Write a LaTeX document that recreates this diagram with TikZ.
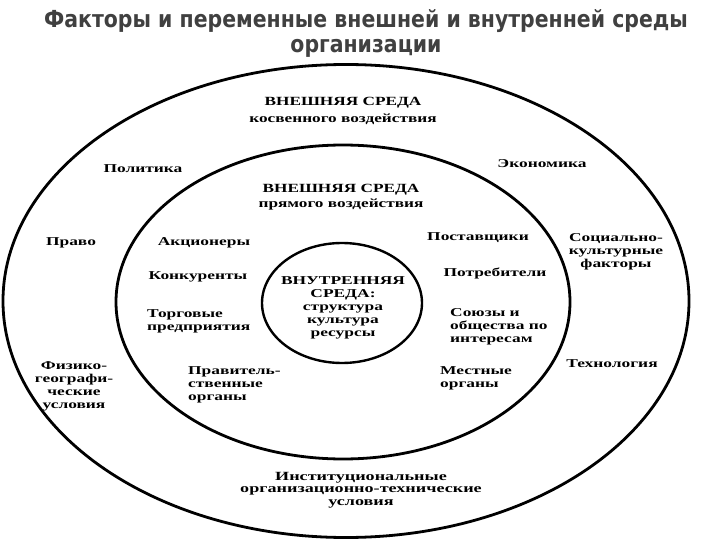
\documentclass[tikz,border=0pt]{standalone}
\usepackage{fontspec}
\usetikzlibrary{shapes.geometric}
\newfontfamily\lblfont[FakeStretch=1.45]{Liberation Serif}
\newfontfamily\hdfont[FakeStretch=1.38]{Liberation Serif}
\newfontfamily\ttlfont[FakeStretch=0.87]{DejaVu Sans}
\definecolor{ttlgray}{HTML}{404040}
\tikzset{
  ring/.style={draw, ellipse, line width=2.8pt, inner sep=0pt},
  lbl/.style={font=\lblfont\bfseries\fontsize{12}{13}\selectfont, inner sep=0pt, align=center},
  lbll/.style={lbl, align=left, anchor=west},
  hd/.style={font=\hdfont\bfseries\fontsize{12.5}{17}\selectfont, inner sep=0pt, align=center},
  ttl/.style={font=\ttlfont\bfseries\fontsize{23.5}{27}\selectfont, text=ttlgray, inner sep=0pt}
}
\begin{document}
\begin{tikzpicture}[x=1pt,y=-1pt]
\useasboundingbox (0,0) rectangle (720,540);
\fill[white] (0,0) rectangle (720,540);
% title
\node[ttl] (t1) at (366,21) {Факторы и переменные внешней и внутренней среды};
\node[ttl] (t2) at (366,48) {организации};
% rings
\node[ring, minimum width=686pt, minimum height=473pt] (outer) at (346,301) {};
\node[ring, minimum width=454pt, minimum height=314pt] (middle) at (343,302) {};
\node[ring, line width=2.4pt, minimum width=160pt, minimum height=120pt] (inner) at (342,303) {};
% outer ring labels
\node[hd] (hk) at (343,111) {ВНЕШНЯЯ СРЕДА\\косвенного воздействия};
\node[lbl] (pol) at (143,169) {Политика};
\node[lbl] (eco) at (542,164) {Экономика};
\node[lbl] (prav) at (71,243) {Право};
\node[lbl] (soc) at (616,252) {Социально-\\культурные\\факторы};
\node[lbl] (fiz) at (74,386) {Физико-\\географи-\\ческие\\условия};
\node[lbl] (tech) at (612,364) {Технология};
\node[lbl, font=\lblfont\bfseries\fontsize{12.5}{12.5}\selectfont] (inst) at (361,490) {Институциональные\\организационно-технические\\условия};
% middle ring labels
\node[hd, font=\hdfont\bfseries\fontsize{12.5}{14.5}\selectfont] (hp) at (341,197) {ВНЕШНЯЯ СРЕДА\\прямого воздействия};
\node[lbl] (akc) at (204,243) {Акционеры};
\node[lbl] (konk) at (198,277) {Конкуренты};
\node[lbll] (torg) at (147,321) {Торговые\\предприятия};
\node[lbl] (post) at (478,238) {Поставщики};
\node[lbl] (potr) at (495,273) {Потребители};
\node[lbll] (soyuz) at (450,327) {Союзы и\\общества по\\интересам};
\node[lbll] (gov) at (188,385) {Правитель-\\ственные\\органы};
\node[lbll] (mest) at (440,378) {Местные\\органы};
% inner
\node[lbl] (vnutr) at (343,308) {ВНУТРЕННЯЯ\\СРЕДА:\\структура\\культура\\ресурсы};
\end{tikzpicture}
\end{document}
